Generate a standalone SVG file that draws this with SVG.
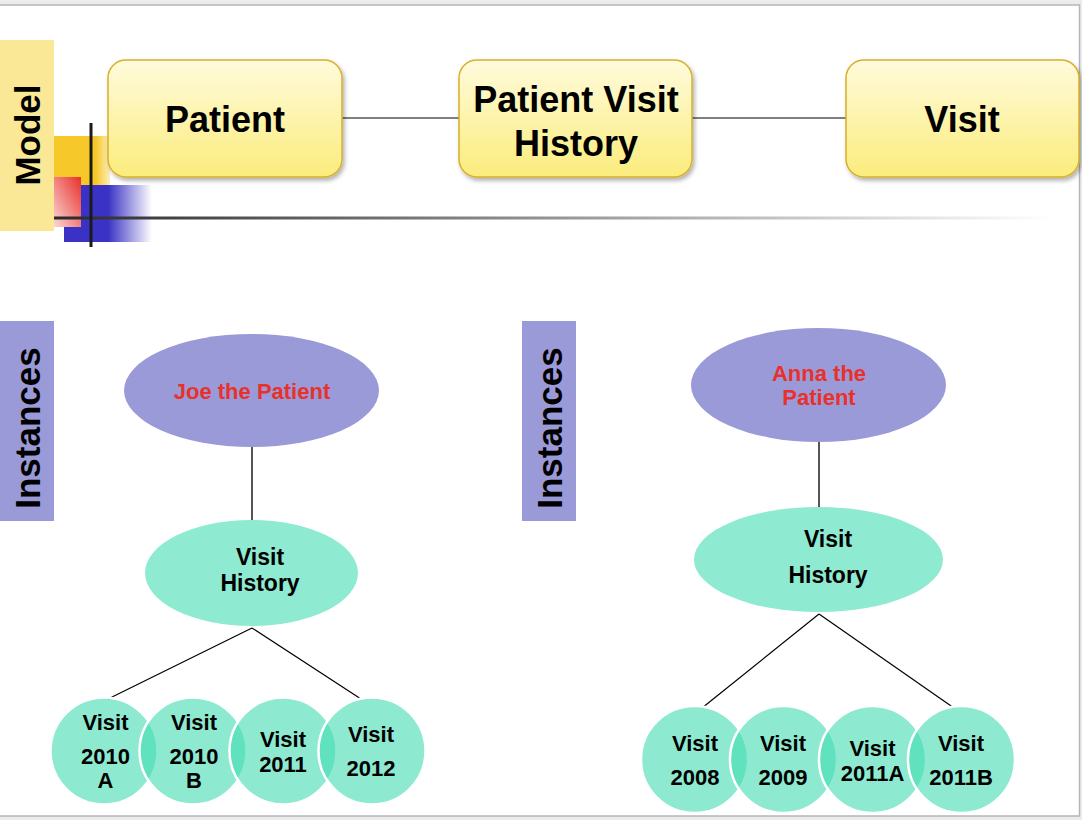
<svg xmlns="http://www.w3.org/2000/svg" width="1082" height="820" viewBox="0 0 1082 820">
<defs>
<linearGradient id="boxg" x1="0" y1="0" x2="0" y2="1">
<stop offset="0" stop-color="#fffbdc"/>
<stop offset="1" stop-color="#fbec7c"/>
</linearGradient>
<linearGradient id="hline" x1="0" y1="0" x2="1" y2="0">
<stop offset="0" stop-color="#2a2a2a"/>
<stop offset="0.45" stop-color="#8a8a8a"/>
<stop offset="1" stop-color="#ffffff"/>
</linearGradient>
<linearGradient id="blueg" x1="0" y1="0" x2="1" y2="0">
<stop offset="0" stop-color="#3a32c4"/>
<stop offset="0.5" stop-color="#3a32c4"/>
<stop offset="1" stop-color="#3a32c4" stop-opacity="0"/>
</linearGradient>
<linearGradient id="yellowg" x1="0" y1="0" x2="1" y2="0">
<stop offset="0" stop-color="#f6c82a"/>
<stop offset="0.75" stop-color="#f6c82a"/>
<stop offset="1" stop-color="#f6c82a" stop-opacity="0.3"/>
</linearGradient>
<linearGradient id="redg" x1="1" y1="0" x2="0" y2="1">
<stop offset="0" stop-color="#e8302a"/>
<stop offset="1" stop-color="#fbd6d6"/>
</linearGradient>
<filter id="sh" x="-10%" y="-10%" width="125%" height="130%">
<feDropShadow dx="2" dy="3" stdDeviation="2" flood-color="#000" flood-opacity="0.3"/>
</filter>
<style>
text{font-family:"Liberation Sans",Arial,sans-serif;font-weight:bold;text-anchor:middle}
.box{fill:url(#boxg);stroke:#d8b02a;stroke-width:1.5}
.bt{font-size:36px;fill:#000}
.side{font-size:35px;fill:#000}
.pat{fill:#9b9ad8}
.pt{font-size:22px;fill:#e8312a}
.hist{fill:#8eead0}
.ht{font-size:23px;fill:#000}
.vc{fill:rgb(65,220,176);fill-opacity:0.6;stroke:#fff;stroke-width:2.5}
.vt{font-size:22px;fill:#000}
.ln{stroke:#000;stroke-width:1.2;fill:none}
.vl{stroke:#555;stroke-width:2;fill:none}
</style>
</defs>
<rect x="0" y="0" width="1082" height="820" fill="#ececec"/>
<rect x="-2" y="5" width="1081.5" height="811" fill="#fff" stroke="#b4b4bc" stroke-width="1.5"/>

<g id="decor">
<rect x="0" y="40" width="54" height="191" fill="#fae896"/>
<text class="side" transform="translate(40,135) rotate(-90)">Model</text>
<rect x="54" y="136" width="56" height="49" fill="url(#yellowg)"/>
<rect x="64" y="185" width="88" height="57" fill="url(#blueg)"/>
<rect x="54" y="177" width="27" height="50" fill="url(#redg)"/>
<rect x="54" y="216.5" width="1000" height="3" fill="url(#hline)"/>
<rect x="89.5" y="123" width="3" height="124" fill="#1a1a1a"/>
</g>

<g id="connectors">
<line class="ln" x1="342" y1="118" x2="459" y2="118"/>
<line class="ln" x1="692" y1="118" x2="846" y2="118"/>
<line class="vl" x1="252" y1="447" x2="252" y2="520"/>
<line class="ln" x1="252" y1="628" x2="108" y2="699"/>
<line class="ln" x1="252" y1="628" x2="361" y2="699"/>
<line class="vl" x1="819" y1="442" x2="819" y2="507"/>
<line class="ln" x1="819" y1="614" x2="702" y2="708"/>
<line class="ln" x1="819" y1="614" x2="954" y2="708"/>
</g>

<g id="patient">
<rect class="box" x="108" y="60" width="234" height="117" rx="18" filter="url(#sh)"/>
<text class="bt" x="225" y="132">Patient</text>
</g>
<g id="patient-visit-history">
<rect class="box" x="459" y="60" width="233" height="117" rx="18" filter="url(#sh)"/>
<text class="bt" x="576" y="112">Patient Visit</text>
<text class="bt" x="576" y="156">History</text>
</g>
<g id="visit">
<rect class="box" x="846" y="60" width="233" height="117" rx="18" filter="url(#sh)"/>
<text class="bt" x="962" y="132">Visit</text>
</g>

<g id="instances-left-label">
<rect x="0" y="321" width="54" height="200" fill="#9b9ad8"/>
<text class="side" transform="translate(40,428) rotate(-90)">Instances</text>
</g>
<g id="instances-right-label">
<rect x="522" y="321" width="54" height="200" fill="#9b9ad8"/>
<text class="side" transform="translate(562,428) rotate(-90)">Instances</text>
</g>

<g id="joe">
<ellipse class="pat" cx="251.5" cy="390.5" rx="127.5" ry="56.5"/>
<text class="pt" x="252" y="399">Joe the Patient</text>
</g>
<g id="joe-visit-history">
<ellipse class="hist" cx="251.5" cy="573" rx="106.5" ry="53"/>
<text class="ht" x="260" y="565">Visit</text>
<text class="ht" x="260" y="591">History</text>
</g>
<g id="joe-visit-2010a">
<circle class="vc" cx="104" cy="751" r="53.5"/>
<text class="vt" x="105.5" y="730">Visit</text>
<text class="vt" x="105.5" y="764">2010</text>
<text class="vt" x="105.5" y="788">A</text>
</g>
<g id="joe-visit-2010b">
<circle class="vc" cx="193" cy="751" r="53.5"/>
<text class="vt" x="194" y="730">Visit</text>
<text class="vt" x="194" y="764">2010</text>
<text class="vt" x="194" y="788">B</text>
</g>
<g id="joe-visit-2011">
<circle class="vc" cx="283" cy="751" r="53.5"/>
<text class="vt" x="283" y="747">Visit</text>
<text class="vt" x="283" y="772">2011</text>
</g>
<g id="joe-visit-2012">
<circle class="vc" cx="372" cy="751" r="53.5"/>
<text class="vt" x="371" y="742">Visit</text>
<text class="vt" x="371" y="776">2012</text>
</g>

<g id="anna">
<ellipse class="pat" cx="818.5" cy="385" rx="127.5" ry="57"/>
<text class="pt" x="819" y="381">Anna the</text>
<text class="pt" x="819" y="405">Patient</text>
</g>
<g id="anna-visit-history">
<ellipse class="hist" cx="818.5" cy="559.5" rx="124.5" ry="52.5"/>
<text class="ht" x="828" y="547">Visit</text>
<text class="ht" x="828" y="583">History</text>
</g>
<g id="anna-visit-2008">
<circle class="vc" cx="694.5" cy="759.5" r="53.5"/>
<text class="vt" x="695" y="751">Visit</text>
<text class="vt" x="695" y="785">2008</text>
</g>
<g id="anna-visit-2009">
<circle class="vc" cx="783.5" cy="759.5" r="53.5"/>
<text class="vt" x="783" y="751">Visit</text>
<text class="vt" x="783" y="785">2009</text>
</g>
<g id="anna-visit-2011a">
<circle class="vc" cx="872.5" cy="759.5" r="53.5"/>
<text class="vt" x="872.5" y="756">Visit</text>
<text class="vt" x="872.5" y="781">2011A</text>
</g>
<g id="anna-visit-2011b">
<circle class="vc" cx="961.5" cy="759.5" r="53.5"/>
<text class="vt" x="961" y="751">Visit</text>
<text class="vt" x="961" y="785">2011B</text>
</g>
</svg>
